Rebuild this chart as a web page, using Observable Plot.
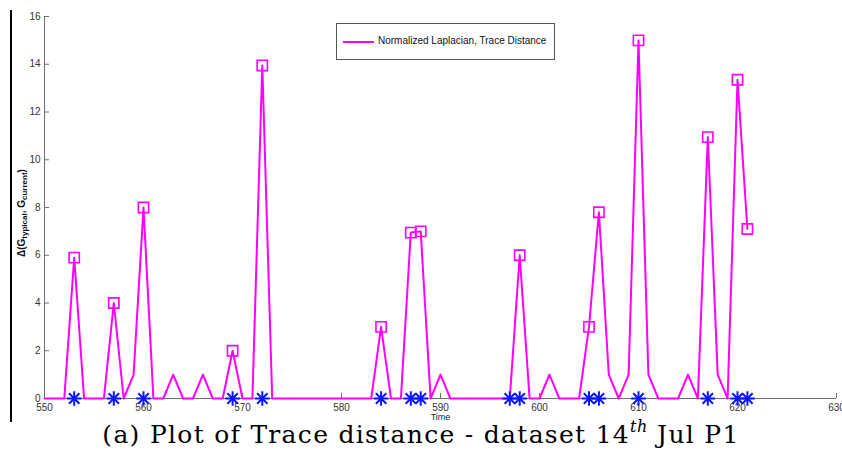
<!DOCTYPE html>
<html>
<head>
<meta charset="utf-8">
<script src="https://cdn.jsdelivr.net/npm/d3@7"></script>
<script src="https://cdn.jsdelivr.net/npm/@observablehq/plot@0.6"></script>
<style>
  body { margin: 0; background: #fff; }
  #wrap { position: relative; width: 842px; height: 456px; overflow: hidden; background: #fff; font-family: "Liberation Sans", Arial, sans-serif; }
  #chart { position: absolute; left: 0; top: 0; }
  #border { position: absolute; left: 10px; top: 10px; width: 2px; height: 412px; background: #000; }
  #legend { position: absolute; left: 336px; top: 23px; width: 219px; height: 37px; border: 1px solid #555; background: #fff; box-sizing: border-box; }
  #legend .swatch { position: absolute; left: 6px; top: 17px; width: 31px; height: 2px; background: #ff00ff; }
  #legend .lab { position: absolute; left: 41px; top: 11px; font-size: 10px; color: #111; white-space: nowrap; }
  #ylab { position: absolute; left: 22px; top: 213px; transform: translate(-50%, -50%) rotate(-90deg); font-size: 10px; font-weight: bold; color: #111; white-space: nowrap; }
  #ylab sub { font-size: 8px; vertical-align: -2px; }
  #caption { position: absolute; left: 0; top: 420px; width: 842px; text-align: center; font-family: "DejaVu Serif", "Liberation Serif", serif; font-size: 25px; letter-spacing: 1.3px; color: #000; white-space: nowrap; line-height: 30px; }
  #caption sup { font-size: 16px; font-style: italic; vertical-align: 11px; line-height: 0; letter-spacing: 0.5px; }
</style>
</head>
<body>
<div id="wrap">
  <div id="chart"></div>
  <div id="border"></div>
  <div id="legend"><div class="swatch"></div><div class="lab">Normalized Laplacian, Trace Distance</div></div>
  <div id="ylab">Δ(G<sub>typical</sub>, G<sub>current</sub>)</div>
  <div id="caption">(a) Plot of Trace distance - dataset 14<sup>th</sup> Jul P1</div>
</div>
<script>
// Time steps and trace distance values
const times = [550,551,552,553,554,555,556,557,558,559,560,561,562,563,564,565,566,567,568,569,
               570,571,572,573,574,575,576,577,578,579,580,581,582,583,584,585,586,587,588,589,
               590,591,592,593,594,595,596,597,598,599,600,601,602,603,604,605,606,607,608,609,
               610,611,612,613,614,615,616,617,618,619,620,621];
const values = [0,0,0,5.9,0,0,0,4,0,1,8,0,0,1,0,0,1,0,0,2,
                0,0,13.95,0,0,0,0,0,0,0,0,0,0,0,3,0,0,6.95,7,0,
                1,0,0,0,0,0,0,0,6,0,0,1,0,0,0,3,7.8,1,0,1,
                15,1,0,0,0,1,0,10.95,1,0,13.35,7.1];
// Marked (square) anomaly points
const squareTimes = [553,557,560,569,572,584,587,588,598,605,606,610,617,620,621];
// Ground-truth event times (blue asterisks on the time axis)
const starTimes = [553,557,560,569,572,584,587,588,597,598,605,606,610,617,620,621];
// Axis ticks
const xTicks = [550,560,570,580,590,600,610,620,630];
const yTicks = [0,2,4,6,8,10,12,14,16];

const series = times.map((t, i) => ({t, v: values[i]}));
const squares = series.filter(d => squareTimes.includes(d.t));
const stars = starTimes.map(t => ({t, v: 0}));

const magenta = "#ff00ff";
const blue = "#0a14ff";
const axisGrey = "#6e6e6e";

const chart = Plot.plot({
  width: 842,
  height: 422,
  marginLeft: 44,
  marginRight: 6,
  marginTop: 16,
  marginBottom: 24,
  x: {domain: [550, 630]},
  y: {domain: [0, 16]},
  style: {fontFamily: "Liberation Sans, Arial, sans-serif", fontSize: "10px", color: "#333", background: "transparent", overflow: "visible"},
  marks: [
    Plot.ruleY([0], {stroke: axisGrey, strokeWidth: 1}),
    Plot.ruleX([550], {stroke: axisGrey, strokeWidth: 1}),
    Plot.axisY({ticks: yTicks, tickSize: -5, tickPadding: 9, stroke: axisGrey, label: null}),
    Plot.axisX({ticks: xTicks, tickSize: -5, tickPadding: 10, stroke: axisGrey, label: null}),
    Plot.line(series, {x: "t", y: "v", stroke: magenta, strokeWidth: 2}),
    Plot.dot(squares, {x: "t", y: "v", symbol: "square", r: 5.8, stroke: magenta, strokeWidth: 1.6, fill: "none"}),
    Plot.dot(stars, {x: "t", y: "v", symbol: "plus", r: 4.8, stroke: blue, strokeWidth: 2}),
    Plot.dot(stars, {x: "t", y: "v", symbol: "times", r: 4.8, stroke: blue, strokeWidth: 2}),
    Plot.text(["Time"], {frameAnchor: "bottom", dy: 21, fontSize: 9, fill: "#222"})
  ]
});
document.getElementById("chart").appendChild(chart);
</script>
</body>
</html>
